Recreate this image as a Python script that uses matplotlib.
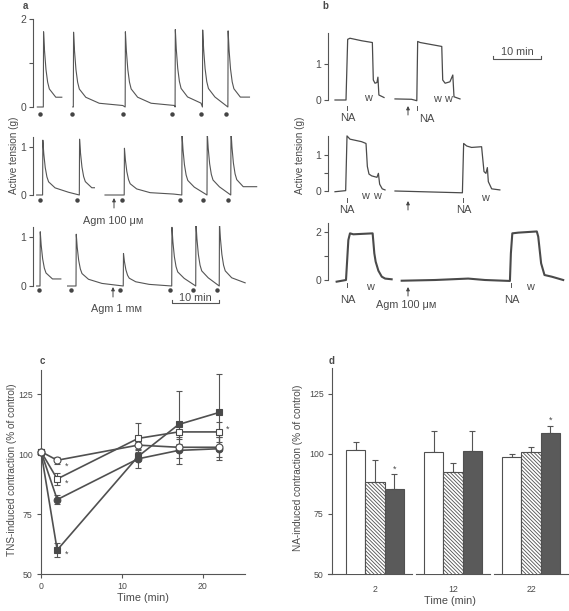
import numpy as np
import matplotlib
matplotlib.use('Agg')
import matplotlib.pyplot as plt
from matplotlib.transforms import blended_transform_factory

plt.rcParams['font.family'] = ['Liberation Sans', 'DejaVu Sans']
plt.rcParams['hatch.linewidth'] = 0.6
plt.rcParams['hatch.color'] = '#555555'

W, H, DPI = 569, 611, 100
TXT = '#4a4a4a'
LC = '#555555'

# ---------------- Panel a data (time in min, tension in g) ----------------
spike_dt = [0, 0.05, 0.25, 0.55, 0.9, 1.25, 2.6, 5.4, 10.3, 15]
spike_frac = [0, 1.0, 0.75, 0.5, 0.33, 0.24, 0.13, 0.05, 0.02, 0.0]

a1_segments = [(0.9, 6.0), (8.3, 45.1)]
a1_onsets = [[2.15], [8.4, 19.2, 29.6, 35.3, 40.6]]
a1_peaks = [[1.71], [1.70, 1.71, 1.76, 1.75, 1.73]]
a1_dots = [1.46, 8.06, 18.7, 29.0, 35.0, 40.2]

a2_segments = [(0.76, 12.8), (15.0, 46.6)]
a2_onsets = [[2.0, 9.65], [19.0, 31.0, 36.25, 41.2]]
a2_peaks = [[1.15, 1.17], [0.98, 1.27, 1.31, 1.34]]
a2_dots = [1.46, 9.2, 18.5, 30.6, 35.5, 40.6]

a3_segments = [(0.76, 5.8), (7.2, 44.2)]
a3_onsets = [[1.46], [8.96, 18.8, 28.9, 33.9, 38.8]]
a3_peaks = [[1.1], [1.05, 0.66, 1.19, 1.28, 1.28]]
a3_dots = [1.25, 7.9, 18.1, 28.5, 33.4, 38.4]

# ---------------- Panel b data ----------------
b1_t = [[1.46, 3.75, 4.1, 4.58, 7.0, 9.24, 9.44, 9.79, 10.2, 10.4, 10.6, 11.67],
        [13.96, 17.4, 18.5, 18.68, 19.2, 23.7, 23.9, 24.4, 25.4, 26.0, 26.25, 27.5]]
b1_g = [[0, 0, 1.70, 1.73, 1.66, 1.61, 0.56, 0.47, 0.49, 0.64, 0.14, 0.07],
        [0.03, 0.02, -0.02, 1.64, 1.61, 1.50, 0.56, 0.47, 0.51, 0.70, 0.09, 0.03]]

b2_t = [[1.46, 3.68, 3.96, 4.58, 7.0, 7.92, 8.2, 8.54, 9.1, 10.2, 10.5, 10.76, 11.3, 11.88],
        [13.96, 22.3, 28.0, 28.26, 28.9, 29.9, 32.0, 32.2, 32.5, 32.9, 33.2, 33.4, 34.1, 35.8]]
b2_g = [[-0.02, 0.01, 1.53, 1.44, 1.37, 1.32, 0.68, 0.47, 0.42, 0.38, 0.49, 0.19, 0.06, 0.03],
        [0, -0.03, -0.05, 1.32, 1.25, 1.21, 1.23, 0.95, 0.54, 0.49, 0.65, 0.26, 0.06, 0.03]]

b3_t = [[1.8, 3.75, 4.24, 4.58, 5.28, 9.3, 9.65, 9.93, 10.5, 11.2, 11.9, 13.26],
        [15.35, 22.3, 29.2, 32.7, 37.9, 38.1, 38.4, 39.65, 43.5, 43.8, 44.4, 45.1, 46.6, 49.0]]
b3_g = [[-0.07, 0, 1.68, 1.96, 1.92, 1.96, 1.12, 0.77, 0.39, 0.14, 0.06, 0.03],
        [-0.03, 0, 0.06, 0, -0.04, 1.12, 1.96, 1.99, 2.04, 1.82, 0.7, 0.21, 0.14, 0]]

# ---------------- Panel c data ----------------
c_time = [0, 2, 12, 17, 22]
c_open_circle = [101, 97.4, 103.7, 102.8, 102.8]
c_open_circle_err = [0, 1.5, 1.5, 1.5, 4.2]
c_open_square = [101, 89.6, 106.5, 109.2, 109.2]
c_open_square_err = [0, 2.5, 6.5, 3, 4.2]
c_filled_circle = [101, 81, 98.0, 101.5, 102.2]
c_filled_circle_err = [0, 2, 3.8, 5.5, 4.9]
c_filled_square = [101, 60, 99.0, 112.3, 117.3]
c_filled_square_err = [0, 3, 2, 14, 16]
c_star_x = [3.1, 3.1, 3.1, 23.1]
c_star_y = [95, 88, 58.3, 110.4]

# ---------------- Panel d data ----------------
d_groups = ['2', '12', '22']
d_open = [101.7, 101.0, 98.9]
d_open_err = [3.3, 8.6, 1.0]
d_hatched = [88.5, 92.5, 101.0]
d_hatched_err = [8.9, 3.9, 2.0]
d_dark = [85.4, 101.2, 108.6]
d_dark_err = [6.1, 8.4, 3.1]
d_star = [True, False, True]

fig = plt.figure(figsize=(W / DPI, H / DPI), dpi=DPI)


def add_ax(x0, y0, x1, y1):
    ax = fig.add_axes([x0 / W, 1 - y1 / H, (x1 - x0) / W, (y1 - y0) / H])
    ax.patch.set_visible(False)
    return ax


def trace_ax(xbox, ybox, zero_px, ppg, xlim, spine_top, ticks, labels):
    ax = add_ax(xbox[0], ybox[0], xbox[1], ybox[1])
    ax.set_xlim(*xlim)
    ax.set_ylim((zero_px - ybox[1]) / ppg, (zero_px - ybox[0]) / ppg)
    for s in ['top', 'right', 'bottom']:
        ax.spines[s].set_visible(False)
    ax.spines['left'].set_bounds(0, spine_top)
    ax.spines['left'].set_color(LC)
    ax.spines['left'].set_linewidth(0.8)
    ax.set_xticks([])
    ax.set_yticks(ticks)
    ax.set_yticklabels(labels)
    ax.tick_params(axis='y', length=3, width=0.8, color=LC, labelsize=7.5,
                   labelcolor=TXT, pad=2)
    return ax


def spike_trace(segments, onsets, peaks):
    out = []
    for (start, end), ons, pks in zip(segments, onsets, peaks):
        t, g = [start], [0.0]
        for i, (on, pk) in enumerate(zip(ons, pks)):
            nxt = ons[i + 1] if i + 1 < len(ons) else end
            for dt, fr in zip(spike_dt, spike_frac):
                if on + dt < nxt:
                    t.append(on + dt)
                    g.append(pk * fr)
        t.append(end)
        g.append(g[-1])
        out.append((t, g))
    return out


AX_A = (33, 268)
AX_B = (328, 569)
PPM = 4.8  # px per minute
xlim_a = (0, (AX_A[1] - AX_A[0]) / PPM)
xlim_b = (0, (AX_B[1] - AX_B[0]) / PPM)

# Panel a
a_specs = [
    ((19, 120), 107, 44.0, 2.0, [0, 1, 2], ['0', '', '2'], a1_segments, a1_onsets, a1_peaks, a1_dots, -0.15),
    ((136, 207), 195, 47.7, 1.22, [0, 1], ['0', '1'], a2_segments, a2_onsets, a2_peaks, a2_dots, -0.105),
    ((226, 298), 286, 49.3, 1.2, [0, 1], ['0', '1'], a3_segments, a3_onsets, a3_peaks, a3_dots, -0.075),
]
for ybox, zp, ppg, stop, tks, tls, segs, ons, pks, dots, doty in a_specs:
    ax = trace_ax(AX_A, ybox, zp, ppg, xlim_a, stop, tks, tls)
    for t, g in spike_trace(segs, ons, pks):
        ax.plot(t, g, color=LC, lw=0.8, solid_joinstyle='round')
    ax.plot(dots, [doty] * len(dots), 'o', color='#444444', ms=2.2, clip_on=False)

# Panel b
b_specs = [
    ((33, 112), 100, 35.7, 1.87, [0, 1], ['0', '1'], b1_t, b1_g, 0.9),
    ((135, 203), 191, 36.0, 1.53, [0, 0.5, 1], ['0', '', '1'], b2_t, b2_g, 0.9),
    ((223, 292), 280, 23.8, 2.38, [0, 1, 2], ['0', '', '2'], b3_t, b3_g, 1.5),
]
for ybox, zp, ppg, stop, tks, tls, ts, gs, lw in b_specs:
    ax = trace_ax(AX_B, ybox, zp, ppg, xlim_b, stop, tks, tls)
    for t, g in zip(ts, gs):
        ax.plot(t, g, color='#4a4a4a', lw=lw, solid_joinstyle='round')

# Panel c
axc = add_ax(41, 370, 245, 574)
axc.set_xlim(0, 25.2)
axc.set_ylim(50, 135)
for s in ['top', 'right']:
    axc.spines[s].set_visible(False)
for s in ['left', 'bottom']:
    axc.spines[s].set_color(LC)
    axc.spines[s].set_linewidth(0.8)
axc.set_xticks([0, 10, 20])
axc.set_yticks([50, 75, 100, 125])
axc.tick_params(length=3, width=0.8, color=LC, labelsize=6.3, labelcolor=TXT, pad=3)
axc.set_xlabel('Time (min)', fontsize=7.8, color=TXT, labelpad=1)
series_c = [
    (c_filled_square, c_filled_square_err, 's', '#4a4a4a', 4.5),
    (c_filled_circle, c_filled_circle_err, 'o', '#4a4a4a', 4.8),
    (c_open_square, c_open_square_err, 's', 'white', 4.5),
    (c_open_circle, c_open_circle_err, 'o', 'white', 5.0),
]
for vals, err, mk, fc, ms in series_c:
    axc.errorbar(c_time, vals, yerr=err, fmt='none', ecolor=LC, elinewidth=0.8,
                 capsize=2.5, capthick=0.8, clip_on=False, zorder=2)
for vals, err, mk, fc, ms in series_c:
    axc.plot(c_time, vals, '-', marker=mk, color='#505050', lw=1.2, ms=ms,
             mfc=fc, mec='#4a4a4a', mew=0.8, clip_on=False, zorder=3)
for x, y in zip(c_star_x, c_star_y):
    axc.text(x, y, '*', fontsize=6.5, color=TXT, ha='center', va='center')

# Panel d
axd = add_ax(332, 368, 568, 574)
axd.set_xlim(-0.551, 2.474)
axd.set_ylim(50, 135.8)
for s in ['top', 'right', 'bottom']:
    axd.spines[s].set_visible(False)
axd.spines['left'].set_color(LC)
axd.spines['left'].set_linewidth(0.8)
axd.set_yticks([50, 75, 100, 125])
xg = np.arange(len(d_groups))
axd.set_xticks(xg)
axd.set_xticklabels(d_groups)
axd.tick_params(axis='y', length=3, width=0.8, color=LC, labelsize=6.3, labelcolor=TXT, pad=3)
axd.tick_params(axis='x', length=0, labelsize=6.3, labelcolor=TXT, pad=8)
axd.set_xlabel('Time (min)', fontsize=7.8, color=TXT, labelpad=1)
bw = 0.245
bt = blended_transform_factory(axd.transData, axd.transAxes)
for i in xg:
    x0 = -0.6 if i == 0 else i - 0.47
    axd.plot([x0, i + 0.47], [0, 0], color=LC, lw=0.8, transform=bt, clip_on=False)
bar_specs = [
    (d_open, d_open_err, -bw, 'white', None),
    (d_hatched, d_hatched_err, 0, 'white', '\\' * 9),
    (d_dark, d_dark_err, bw, '#5a5a5a', None),
]
for vals, err, off, fc, hatch in bar_specs:
    axd.errorbar(xg + off, vals, yerr=[np.zeros(len(vals)), err], fmt='none', ecolor=LC,
                 elinewidth=0.8, capsize=2.5, capthick=0.8, zorder=1)
    axd.bar(xg + off, vals, width=bw, color=fc, edgecolor='#505050', linewidth=0.8,
            hatch=hatch, zorder=2)
for i in xg:
    if d_star[i]:
        axd.text(i + bw, d_dark[i] + d_dark_err[i] + 2.2, '*', fontsize=6.5, color=TXT,
                 ha='center', va='center')

# ---------------- overlay annotations (pixel coordinates) ----------------
ov = fig.add_axes([0, 0, 1, 1])
ov.set_xlim(0, W)
ov.set_ylim(H, 0)
ov.axis('off')
ov.patch.set_visible(False)


def T(x, y, s, size=7.5, **kw):
    kw.setdefault('ha', 'center')
    kw.setdefault('va', 'center')
    ov.text(x, y, s, fontsize=size, color=TXT, **kw)


def arrow(x, y_tail, y_head):
    ov.annotate('', xy=(x, y_head), xytext=(x, y_tail),
                arrowprops=dict(arrowstyle='-|>', lw=0.7, color='#444444',
                                mutation_scale=5, shrinkA=0, shrinkB=0))


def scalebar(x0, x1, y, ty):
    ov.plot([x0, x0, x1, x1], [y - 3, y, y, y - 3], color=LC, lw=0.8)
    T((x0 + x1) / 2, ty, '10 min', 7.8)


def tick(x, y0, y1):
    ov.plot([x, x], [y0, y1], color=LC, lw=0.7)


# panel letters
T(25, 6, 'a', 7, fontweight='bold')
T(325, 6, 'b', 7, fontweight='bold')
T(42, 361, 'c', 7, fontweight='bold')
T(332, 361, 'd', 7, fontweight='bold')

# y labels
T(14, 155, 'Active tension (g)', 7.2, rotation=90)
T(300, 155, 'Active tension (g)', 7.2, rotation=90)
T(12, 470, 'TNS-induced contraction (% of control)', 7.2, rotation=90)
T(298, 468, 'NA-induced contraction (% of control)', 7.2, rotation=90)

# panel a annotations
arrow(114, 208, 198)
T(113, 221, 'Agm 100 \u03bc\u043c', 7.8)
arrow(113, 297, 287)
T(117, 309, 'Agm 1 m\u043c', 7.8)
scalebar(172, 219, 303, 298)

# panel b annotations
scalebar(493, 541, 59, 52)
# row 1
tick(347, 106, 110); T(348, 118, 'NA', 8)
T(368, 98, 'w', 7.8)
arrow(408, 115, 106)
tick(417, 106, 110); T(427, 119, 'NA', 8)
T(437, 99, 'w', 7.8); T(448, 99, 'w', 7.8)
# row 2
tick(347, 198, 202); T(347, 210, 'NA', 8)
T(365, 196, 'w', 7.8); T(377, 196, 'w', 7.8)
arrow(408, 210, 201)
tick(463, 198, 202); T(464, 210, 'NA', 8)
T(485, 198, 'w', 7.8)
# row 3
tick(347, 283, 287); T(348, 300, 'NA', 8)
T(370, 287, 'w', 7.8)
arrow(408, 296, 287)
T(406, 305, 'Agm 100 \u03bc\u043c', 7.8)
tick(511, 283, 287); T(512, 300, 'NA', 8)
T(530, 287, 'w', 7.8)

fig.savefig('out.png', dpi=DPI, facecolor='white')
